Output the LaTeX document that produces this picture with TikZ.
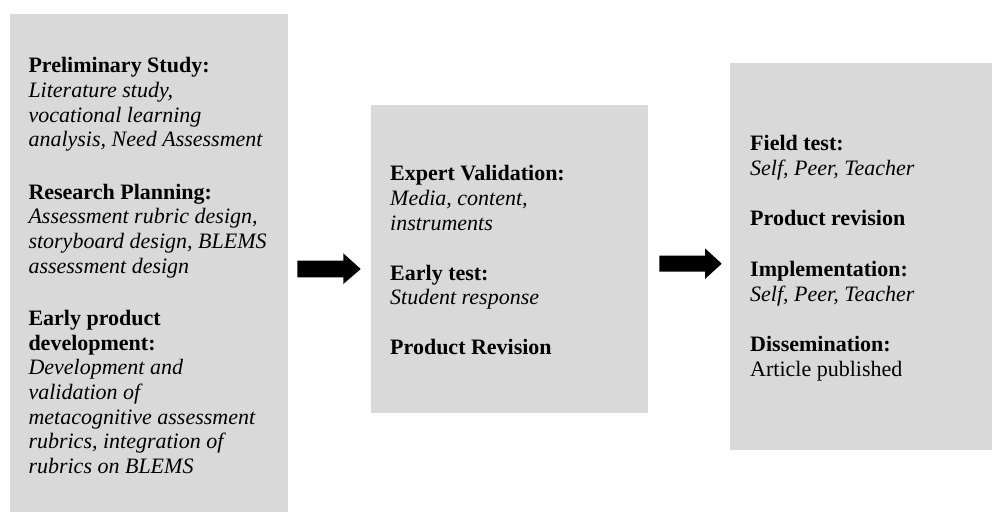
\documentclass[tikz,border=0pt]{standalone}
\usepackage{fontspec}
\setmainfont{Liberation Serif}
\definecolor{boxgray}{RGB}{217,217,217}
\begin{document}
\begin{tikzpicture}[x=1pt,y=-1pt,
  panel/.style={fill=boxgray, draw=none, anchor=north west, inner sep=0pt},
  txt/.style={anchor=north west, inner sep=0pt, align=left, font=\fontsize{22}{24.6}\selectfont},
  blockarrow/.style={fill=black, draw=none}]
\useasboundingbox (0,0) rectangle (992,512);
\fill[white] (0,0) rectangle (992,512);
% panels
\node[panel, minimum width=278pt, minimum height=498pt] (b1) at (9.3,14) {};
\node[panel, minimum width=277pt, minimum height=308pt] (b2) at (371,105) {};
\node[panel, minimum width=262pt, minimum height=387pt] (b3) at (730,63) {};
% texts
\node[txt] (t1) at (28.3,55.5) {\strut\textbf{Preliminary Study:}\\
\textit{Literature study,}\\
\textit{vocational learning}\\
\textit{analysis, Need Assessment}\\[28pt]
\textbf{Research Planning:}\\
\textit{Assessment rubric design,}\\
\textit{storyboard design, BLEMS}\\
\textit{assessment design}\\[28pt]
\textbf{Early product}\\
\textbf{development:}\\
\textit{Development and}\\
\textit{validation of}\\
\textit{metacognitive assessment}\\
\textit{rubrics, integration of}\\
\textit{rubrics on BLEMS}};
\node[txt] (t2) at (390,163.5) {\strut\textbf{Expert Validation:}\\
\textit{Media, content,}\\
\textit{instruments}\\[25.5pt]
\textbf{Early test:}\\
\textit{Student response}\\[25.5pt]
\textbf{Product Revision}};
\node[txt] (t3) at (750,133.3) {\strut\textbf{Field test:}\\
\textit{Self, Peer, Teacher}\\[26pt]
\textbf{Product revision}\\[26pt]
\textbf{Implementation:}\\
\textit{Self, Peer, Teacher}\\[26pt]
\textbf{Dissemination:}\\
Article published};
% arrows
\fill[blockarrow] (297.3,260.7) -- (343.3,260.7) -- (343.3,253.3) -- (360.7,269) -- (343.3,284) -- (343.3,277.3) -- (297.3,277.3) -- cycle;
\fill[blockarrow] (659.3,255.7) -- (705,255.7) -- (705,248.3) -- (721.7,263.7) -- (705,279) -- (705,271.7) -- (659.3,271.7) -- cycle;
\end{tikzpicture}
\end{document}
